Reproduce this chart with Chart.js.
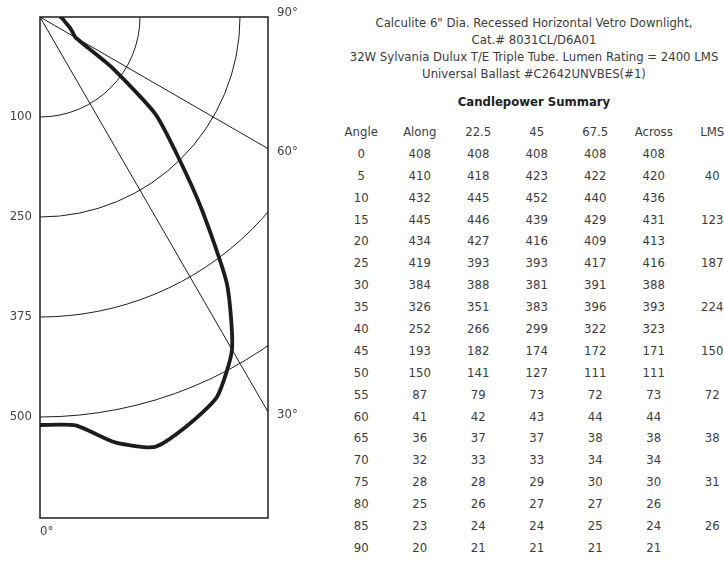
<!DOCTYPE html>
<html>
<head>
<meta charset="utf-8">
<script src="https://cdn.jsdelivr.net/npm/chart.js@4/dist/chart.umd.min.js"></script>
<style>
  body { margin: 0; width: 724px; height: 572px; overflow: hidden; background: #fff; position: relative;
         font-family: "Liberation Sans Narrow", "DejaVu Sans Condensed", "Roboto", sans-serif; color: #3c3c3c; }
  #plot { position: absolute; left: 0; top: 0; width: 320px; height: 572px; }
  #title { position: absolute; left: 334px; width: 400px; top: 14px; text-align: center; font-size: 13px; line-height: 17px; }
  #title b { display: block; margin-top: 11px; font-size: 13px; color: #222; }
  #table { position: absolute; left: 332px; top: 121px; font-size: 13px; }
  .row { display: flex; height: 21.9px; line-height: 21.9px; }
  .row span { width: 58.5px; text-align: center; white-space: nowrap; }
</style>
</head>
<body>
<div id="plot"><canvas id="polar" width="320" height="572"></canvas></div>
<div id="title">
  Calculite 6" Dia. Recessed Horizontal Vetro Downlight,<br>
  Cat.# 8031CL/D6A01<br>
  32W Sylvania Dulux T/E Triple Tube. Lumen Rating = 2400 LMS<br>
  Universal Ballast #C2642UNVBES(#1)
  <b>Candlepower Summary</b>
</div>
<div id="table"></div>
<script>
const headers = ['Angle', 'Along', '22.5', '45', '67.5', 'Across', 'LMS'];
const angles = [0, 5, 10, 15, 20, 25, 30, 35, 40, 45, 50, 55, 60, 65, 70, 75, 80, 85, 90];
const along = [408, 410, 432, 445, 434, 419, 384, 326, 252, 193, 150, 87, 41, 36, 32, 28, 25, 23, 20];
const plane22 = [408, 418, 445, 446, 427, 393, 388, 351, 266, 182, 141, 79, 42, 37, 33, 28, 26, 24, 21];
const plane45 = [408, 423, 452, 439, 416, 393, 381, 383, 299, 174, 127, 73, 43, 37, 33, 29, 27, 24, 21];
const plane67 = [408, 422, 440, 429, 409, 417, 391, 396, 322, 172, 111, 72, 44, 38, 34, 30, 27, 25, 21];
const across = [408, 420, 436, 431, 413, 416, 388, 393, 323, 171, 111, 73, 44, 38, 34, 30, 26, 24, 21];
const lms = ['', 40, '', 123, '', 187, '', 224, '', 150, '', 72, '', 38, '', 31, '', 26, ''];

const ringValues = [100, 200, 300, 400];
const ringLabels = ['100', '250', '375', '500'];
const spokeAngles = [30, 60];
const edgeAngles = [0, 30, 60, 90];

// candlepower summary table
const table = document.getElementById('table');
const addRow = cells => {
    const row = document.createElement('div');
    row.className = 'row';
    cells.forEach(c => {
        const s = document.createElement('span');
        s.textContent = c;
        row.appendChild(s);
    });
    table.appendChild(row);
};
addRow(headers);
angles.forEach((a, i) => addRow([a, along[i], plane22[i], plane45[i], plane67[i], across[i], lms[i]]));

// polar curve: angle measured from nadir (down), candela as radius
const rad = d => d * Math.PI / 180;
const curve = angles.map((a, i) => ({ x: along[i] * Math.sin(rad(a)), y: along[i] * Math.cos(rad(a)) }));

const labelFont = '13px "Liberation Sans Narrow", "DejaVu Sans Condensed", sans-serif';

const polarGrid = {
    id: 'polarGrid',
    beforeDatasetsDraw(chart) {
        const { ctx, chartArea: a, scales: { x, y } } = chart;
        const ox = x.getPixelForValue(0), oy = y.getPixelForValue(0);
        const px = v => x.getPixelForValue(v) - ox;

        ctx.save();
        ctx.beginPath();
        ctx.rect(a.left, a.top, a.right - a.left, a.bottom - a.top);
        ctx.clip();
        ctx.strokeStyle = '#1e1e1e';
        ctx.lineWidth = 1;
        ringValues.forEach(v => {
            ctx.beginPath();
            ctx.arc(ox, oy, px(v), 0, Math.PI / 2);
            ctx.stroke();
        });
        spokeAngles.forEach(d => {
            ctx.beginPath();
            ctx.moveTo(ox, oy);
            ctx.lineTo(x.getPixelForValue(1000 * Math.sin(rad(d))), y.getPixelForValue(1000 * Math.cos(rad(d))));
            ctx.stroke();
        });
        ctx.restore();
    },
    afterDatasetsDraw(chart) {
        const { ctx, chartArea: a, scales: { x, y } } = chart;
        const ox = x.getPixelForValue(0), oy = y.getPixelForValue(0);
        ctx.save();
        ctx.strokeStyle = '#1e1e1e';
        ctx.lineWidth = 1.5;
        ctx.strokeRect(a.left, a.top, a.right - a.left, a.bottom - a.top);

        ctx.fillStyle = '#444';
        ctx.font = labelFont;
        ctx.textBaseline = 'middle';
        ctx.textAlign = 'right';
        ringValues.forEach((v, i) => ctx.fillText(ringLabels[i], a.left - 8, y.getPixelForValue(v)));

        ctx.textAlign = 'left';
        edgeAngles.forEach(d => {
            const t = Math.tan(rad(d));
            const hitY = d === 90 ? oy : oy + (a.right - ox) / t;
            if (d !== 0 && hitY <= a.bottom) {
                ctx.fillText(d + '°', a.right + 9, d === 90 ? hitY - 4 : hitY + 3);
            } else {
                ctx.fillText(d + '°', ox, a.bottom + 14);
            }
        });
        ctx.restore();
    }
};

new Chart(document.getElementById('polar'), {
    type: 'scatter',
    data: {
        datasets: [{
            data: curve,
            showLine: true,
            borderColor: '#1c1c1c',
            borderWidth: 3.8,
            pointRadius: 0,
            tension: 0.2
        }]
    },
    options: {
        responsive: false,
        animation: false,
        layout: { padding: { left: 40, top: 17, right: 52, bottom: 54 } },
        plugins: { legend: { display: false }, tooltip: { enabled: false } },
        scales: {
            x: { type: 'linear', min: 0, max: 228, display: false },
            y: { type: 'linear', min: 0, max: 501, reverse: true, display: false }
        }
    },
    plugins: [polarGrid]
});
</script>
</body>
</html>
